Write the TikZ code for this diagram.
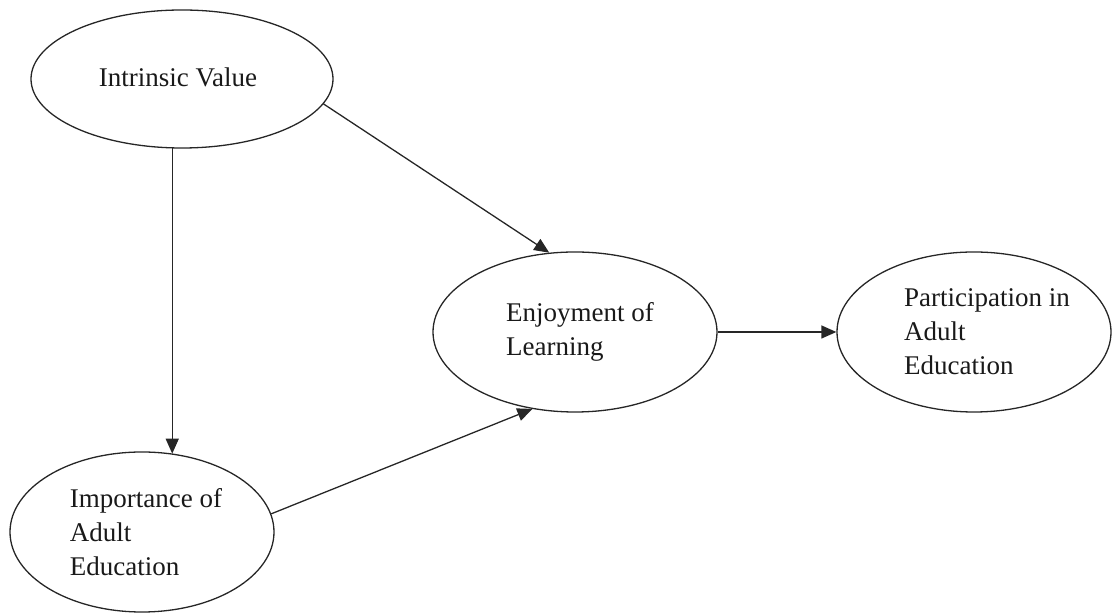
\documentclass[tikz,border=0pt]{standalone}
\usepackage{fontspec}
\setmainfont{Liberation Serif}
\usetikzlibrary{shapes.geometric,arrows.meta}
\tikzset{
  ell/.style={draw=black!85, line width=1.3pt, ellipse, inner sep=0pt},
  txt/.style={align=left, inner sep=0pt, font=\fontsize{27}{34}\selectfont, text=black!90},
  conn/.style={draw=black!85, line width=1.3pt, -{Triangle[length=15pt,width=13pt]}}
}
\begin{document}
\begin{tikzpicture}[x=1pt,y=1pt]
\useasboundingbox (0,0) rectangle (1112,613);
% ellipses
\node[ell, minimum width=302pt, minimum height=138pt] (intr) at (182,534) {};
\node[ell, minimum width=264pt, minimum height=160pt] (imp) at (142,81) {};
\node[ell, minimum width=284pt, minimum height=160pt] (enj) at (575,281) {};
\node[ell, minimum width=274pt, minimum height=160pt] (part) at (974,281) {};
% texts
\node[txt] (intrT) at (178,536) {Intrinsic Value};
\node[txt] (impT) at (146,81) {Importance of\\Adult\\Education};
\node[txt] (enjT) at (580,281) {Enjoyment of\\Learning};
\node[txt] (partT) at (987,281) {Participation in\\Adult\\Education};
% connectors
\draw[conn] (intr.262.6) -- (intr.262.6 |- imp.68.8);
\draw[conn] (intr.-10.3) -- (enj.108);
\draw[conn] (imp.8.3) -- (enj.241.2);
\draw[conn] (enj.east) -- (part.west);
\end{tikzpicture}
\end{document}
